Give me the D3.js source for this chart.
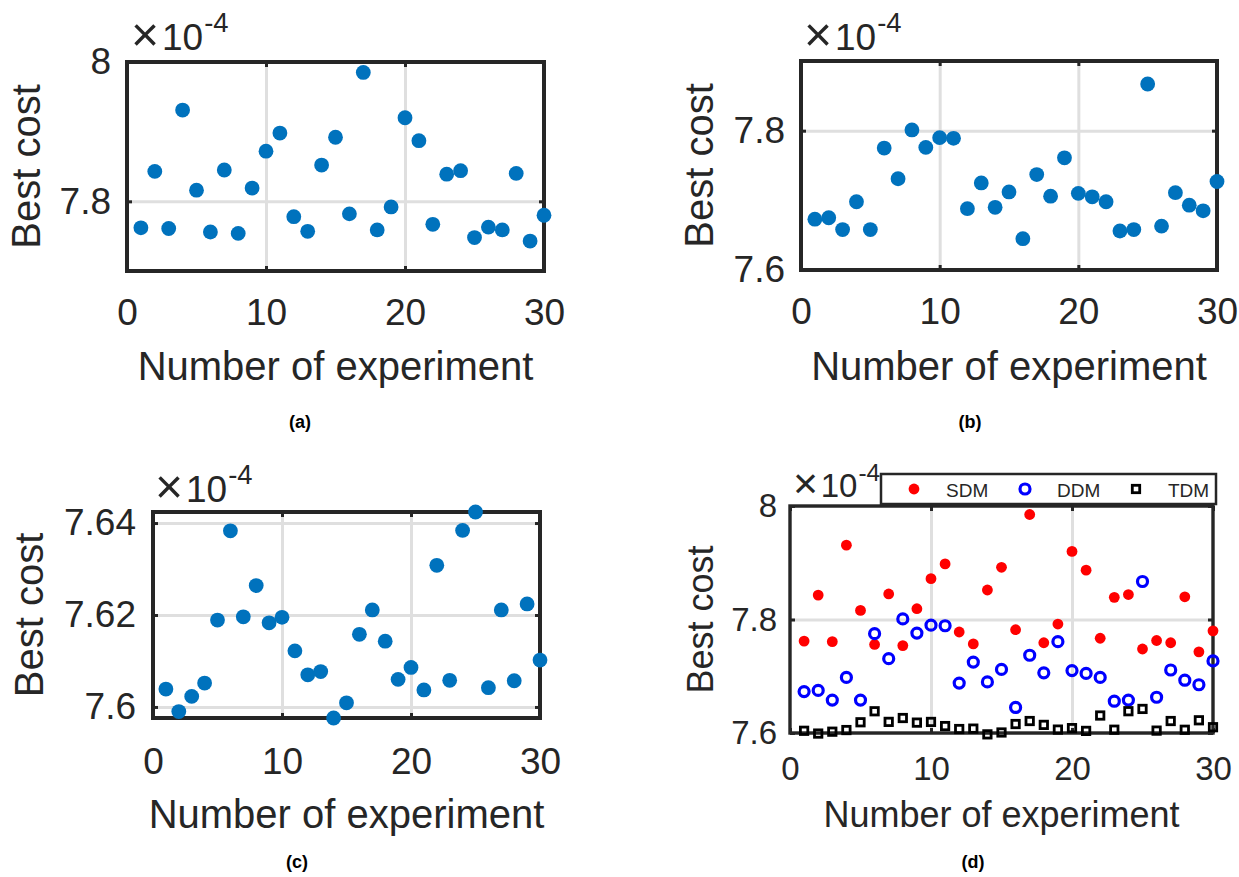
<!DOCTYPE html>
<html lang="en">
<head>
<meta charset="UTF-8" />
<title>Best cost per experiment</title>
<script src="https://d3js.org/d3.v7.min.js"></script>
<style>
  body { margin: 0; background: #fff; }
  svg { display: block; font-family: "Liberation Sans", Arial, Helvetica, sans-serif; }
</style>
</head>
<body>
<svg id="chart" width="1239" height="877"></svg>
<script>
// Data: best cost per run, in units of 1e-4
const experiments = [1, 2, 3, 4, 5, 6, 7, 8, 9, 10, 11, 12, 13, 14, 15,
  16, 17, 18, 19, 20, 21, 22, 23, 24, 25, 26, 27, 28, 29, 30];
const sdmCost = [7.762, 7.843, 7.761, 7.931, 7.816, 7.756, 7.845, 7.754, 7.819, 7.872,
  7.898, 7.778, 7.757, 7.852, 7.892, 7.782, 7.985, 7.759, 7.792, 7.920,
  7.887, 7.767, 7.839, 7.844, 7.748, 7.763, 7.759, 7.840, 7.743, 7.780];
const ddmCost = [7.673, 7.675, 7.658, 7.698, 7.658, 7.775, 7.731, 7.801, 7.776, 7.790,
  7.789, 7.688, 7.725, 7.690, 7.712, 7.645, 7.737, 7.706, 7.761, 7.710,
  7.705, 7.698, 7.656, 7.658, 7.867, 7.663, 7.711, 7.693, 7.685, 7.727];
const tdmCost = [7.6039, 7.5990, 7.6023, 7.6052, 7.6189, 7.6383, 7.6196, 7.6264, 7.6183, 7.6195,
  7.6122, 7.6070, 7.6077, 7.5976, 7.6009, 7.6158, 7.6211, 7.6143, 7.6060, 7.6086,
  7.6037, 7.6308, 7.6058, 7.6384, 7.6424, 7.6042, 7.6211, 7.6057, 7.6224, 7.6102];

const xTicks = [0, 10, 20, 30];
const xGridTicks = [10, 20];
const yTicksA = [7.8, 8];
const yTicksB = [7.6, 7.8];
const yTicksC = [7.6, 7.62, 7.64];
const yTicksD = [7.6, 7.8, 8];
const seriesNames = ["SDM", "DDM", "TDM"];
const captions = ["(a)", "(b)", "(c)", "(d)"];

const INK = "#262626";
const GRID = "#dfdfdf";
const BLUE = "#0072bd";
const svg = d3.select("#chart");
const fmtY = (d) => String(+d.toFixed(2));

const single = (values) => [{ values, type: "dot", color: BLUE, r: 7.4 }];
const combined = [
  { values: sdmCost, type: "dot", color: "#ff0000", r: 5.4 },
  { values: ddmCost, type: "ring", color: "#0000ff", r: 5.0 },
  { values: tdmCost, type: "square", color: "#000000", r: 3.7 },
];

const panels = [
  { left: 127, right: 544, top: 62, bottom: 271, yDomain: [7.7, 8], yTicks: yTicksA,
    series: single(sdmCost), tick: 37, label: 40, boxW: 4, xPad: 28, yPad: 16,
    yLabelX: 40, xLabelY: 380, exp: [131, 50, 37], caption: [300, 428, captions[0]] },
  { left: 801, right: 1217, top: 61, bottom: 270, yDomain: [7.6, 7.9], yTicks: yTicksB,
    series: single(ddmCost), tick: 37, label: 40, boxW: 4, xPad: 28, yPad: 16,
    yLabelX: 713, xLabelY: 380, exp: [804, 50, 37], caption: [970, 428, captions[1]] },
  { left: 153, right: 540, top: 512, bottom: 718, yDomain: d3.extent(tdmCost), yTicks: yTicksC,
    series: single(tdmCost), tick: 37, label: 40, boxW: 4, xPad: 30, yPad: 17,
    yLabelX: 43, xLabelY: 828, exp: [155, 502, 37], caption: [297, 868, captions[2]] },
  { left: 790, right: 1213, top: 506, bottom: 733, yDomain: [7.6, 8], yTicks: yTicksD,
    series: combined, tick: 33, label: 36, boxW: 3.4, xPad: 24, yPad: 13,
    yLabelX: 713, xLabelY: 827, exp: [793, 497, 33], caption: [973, 868, captions[3]] },
];

function styleAxis(sel, size) {
  sel.attr("font-family", null).attr("font-size", size);
  sel.select(".domain").remove();
  sel.selectAll(".tick line").attr("stroke", INK).attr("stroke-width", 3);
  sel.selectAll(".tick text").attr("fill", INK);
}

function drawPanel(p) {
  const g = svg.append("g");
  const x = d3.scaleLinear().domain([0, 30]).range([p.left, p.right]);
  const y = d3.scaleLinear().domain(p.yDomain).range([p.bottom, p.top]);
  const w = p.right - p.left;
  const h = p.bottom - p.top;

  // Grid
  g.append("g")
    .attr("transform", `translate(0,${p.bottom})`)
    .call(d3.axisBottom(x).tickValues(xGridTicks).tickSize(-h).tickFormat(""))
    .call((s) => s.select(".domain").remove())
    .selectAll("line").attr("stroke", GRID).attr("stroke-width", 3);
  g.append("g")
    .attr("transform", `translate(${p.left},0)`)
    .call(d3.axisLeft(y).tickValues(p.yTicks).tickSize(-w).tickFormat(""))
    .call((s) => s.select(".domain").remove())
    .selectAll("line").attr("stroke", GRID).attr("stroke-width", 3);

  // Axes, ticks pointing inside
  g.append("g")
    .attr("transform", `translate(0,${p.bottom})`)
    .call(d3.axisBottom(x).tickValues(xTicks).tickSize(-5).tickPadding(p.xPad).tickFormat(d3.format("d")))
    .call(styleAxis, p.tick);
  g.append("g")
    .attr("transform", `translate(0,${p.top})`)
    .call(d3.axisTop(x).tickValues(xTicks).tickSize(-5).tickFormat(""))
    .call(styleAxis, p.tick);
  g.append("g")
    .attr("transform", `translate(${p.left},0)`)
    .call(d3.axisLeft(y).tickValues(p.yTicks).tickSize(-5).tickPadding(p.yPad).tickFormat(fmtY))
    .call(styleAxis, p.tick);
  g.append("g")
    .attr("transform", `translate(${p.right},0)`)
    .call(d3.axisRight(y).tickValues(p.yTicks).tickSize(-5).tickFormat(""))
    .call(styleAxis, p.tick);

  g.append("rect")
    .attr("x", p.left).attr("y", p.top)
    .attr("width", w).attr("height", h)
    .attr("fill", "none").attr("stroke", INK).attr("stroke-width", p.boxW);

  // Markers
  p.series.forEach((s) => {
    const pts = g.append("g").selectAll("g")
      .data(experiments.map((e, i) => ({ e, v: s.values[i] })))
      .join("g")
      .attr("transform", (d) => `translate(${x(d.e)},${y(d.v)})`);
    addMarker(pts, s);
  });

  // Labels
  g.append("text")
    .attr("transform", `translate(${p.yLabelX},${(p.top + p.bottom) / 2}) rotate(-90)`)
    .attr("text-anchor", "middle").attr("font-size", p.label).attr("fill", INK)
    .text("Best cost");
  g.append("text")
    .attr("x", (p.left + p.right) / 2).attr("y", p.xLabelY)
    .attr("text-anchor", "middle").attr("font-size", p.label).attr("fill", INK)
    .text("Number of experiment");

  // Exponent label  x10^-4
  const fs = p.exp[2];
  const exp = g.append("text")
    .attr("x", p.exp[0]).attr("y", p.exp[1])
    .attr("font-size", fs).attr("fill", INK);
  exp.append("tspan").attr("font-size", fs * 1.3).attr("font-weight", 300).attr("dy", fs * 0.04).text("\u00d7");
  exp.append("tspan").attr("dx", fs * 0.08).attr("dy", -fs * 0.04).text("10");
  exp.append("tspan").attr("dx", 1).attr("dy", -fs * 0.48).attr("font-size", fs * 0.74).text("-4");

  g.append("text")
    .attr("x", p.caption[0]).attr("y", p.caption[1])
    .attr("text-anchor", "middle").attr("font-size", 18).attr("font-weight", "bold")
    .attr("fill", "#000").text(p.caption[2]);
}

function addMarker(sel, s) {
  if (s.type === "dot") {
    sel.append("circle").attr("r", s.r).attr("fill", s.color);
  } else if (s.type === "ring") {
    sel.append("circle").attr("r", s.r).attr("fill", "none")
      .attr("stroke", s.color).attr("stroke-width", 3.2);
  } else {
    sel.append("rect")
      .attr("x", -s.r).attr("y", -s.r).attr("width", s.r * 2).attr("height", s.r * 2)
      .attr("fill", "none").attr("stroke", s.color).attr("stroke-width", 2.8);
  }
}

panels.forEach(drawPanel);

// Legend of panel (d)
const legend = svg.append("g");
legend.append("rect")
  .attr("x", 881).attr("y", 474).attr("width", 335).attr("height", 30)
  .attr("fill", "#fff").attr("stroke", INK).attr("stroke-width", 2.5);
const legendX = d3.scalePoint().domain(seriesNames).range([914, 1136]);
seriesNames.forEach((name, i) => {
  const item = legend.append("g").attr("transform", `translate(${legendX(name)},489)`);
  addMarker(item, combined[i]);
  item.append("text")
    .attr("x", 32).attr("y", 7.5)
    .attr("font-size", 19).attr("fill", INK)
    .text(name);
});
</script>
</body>
</html>
